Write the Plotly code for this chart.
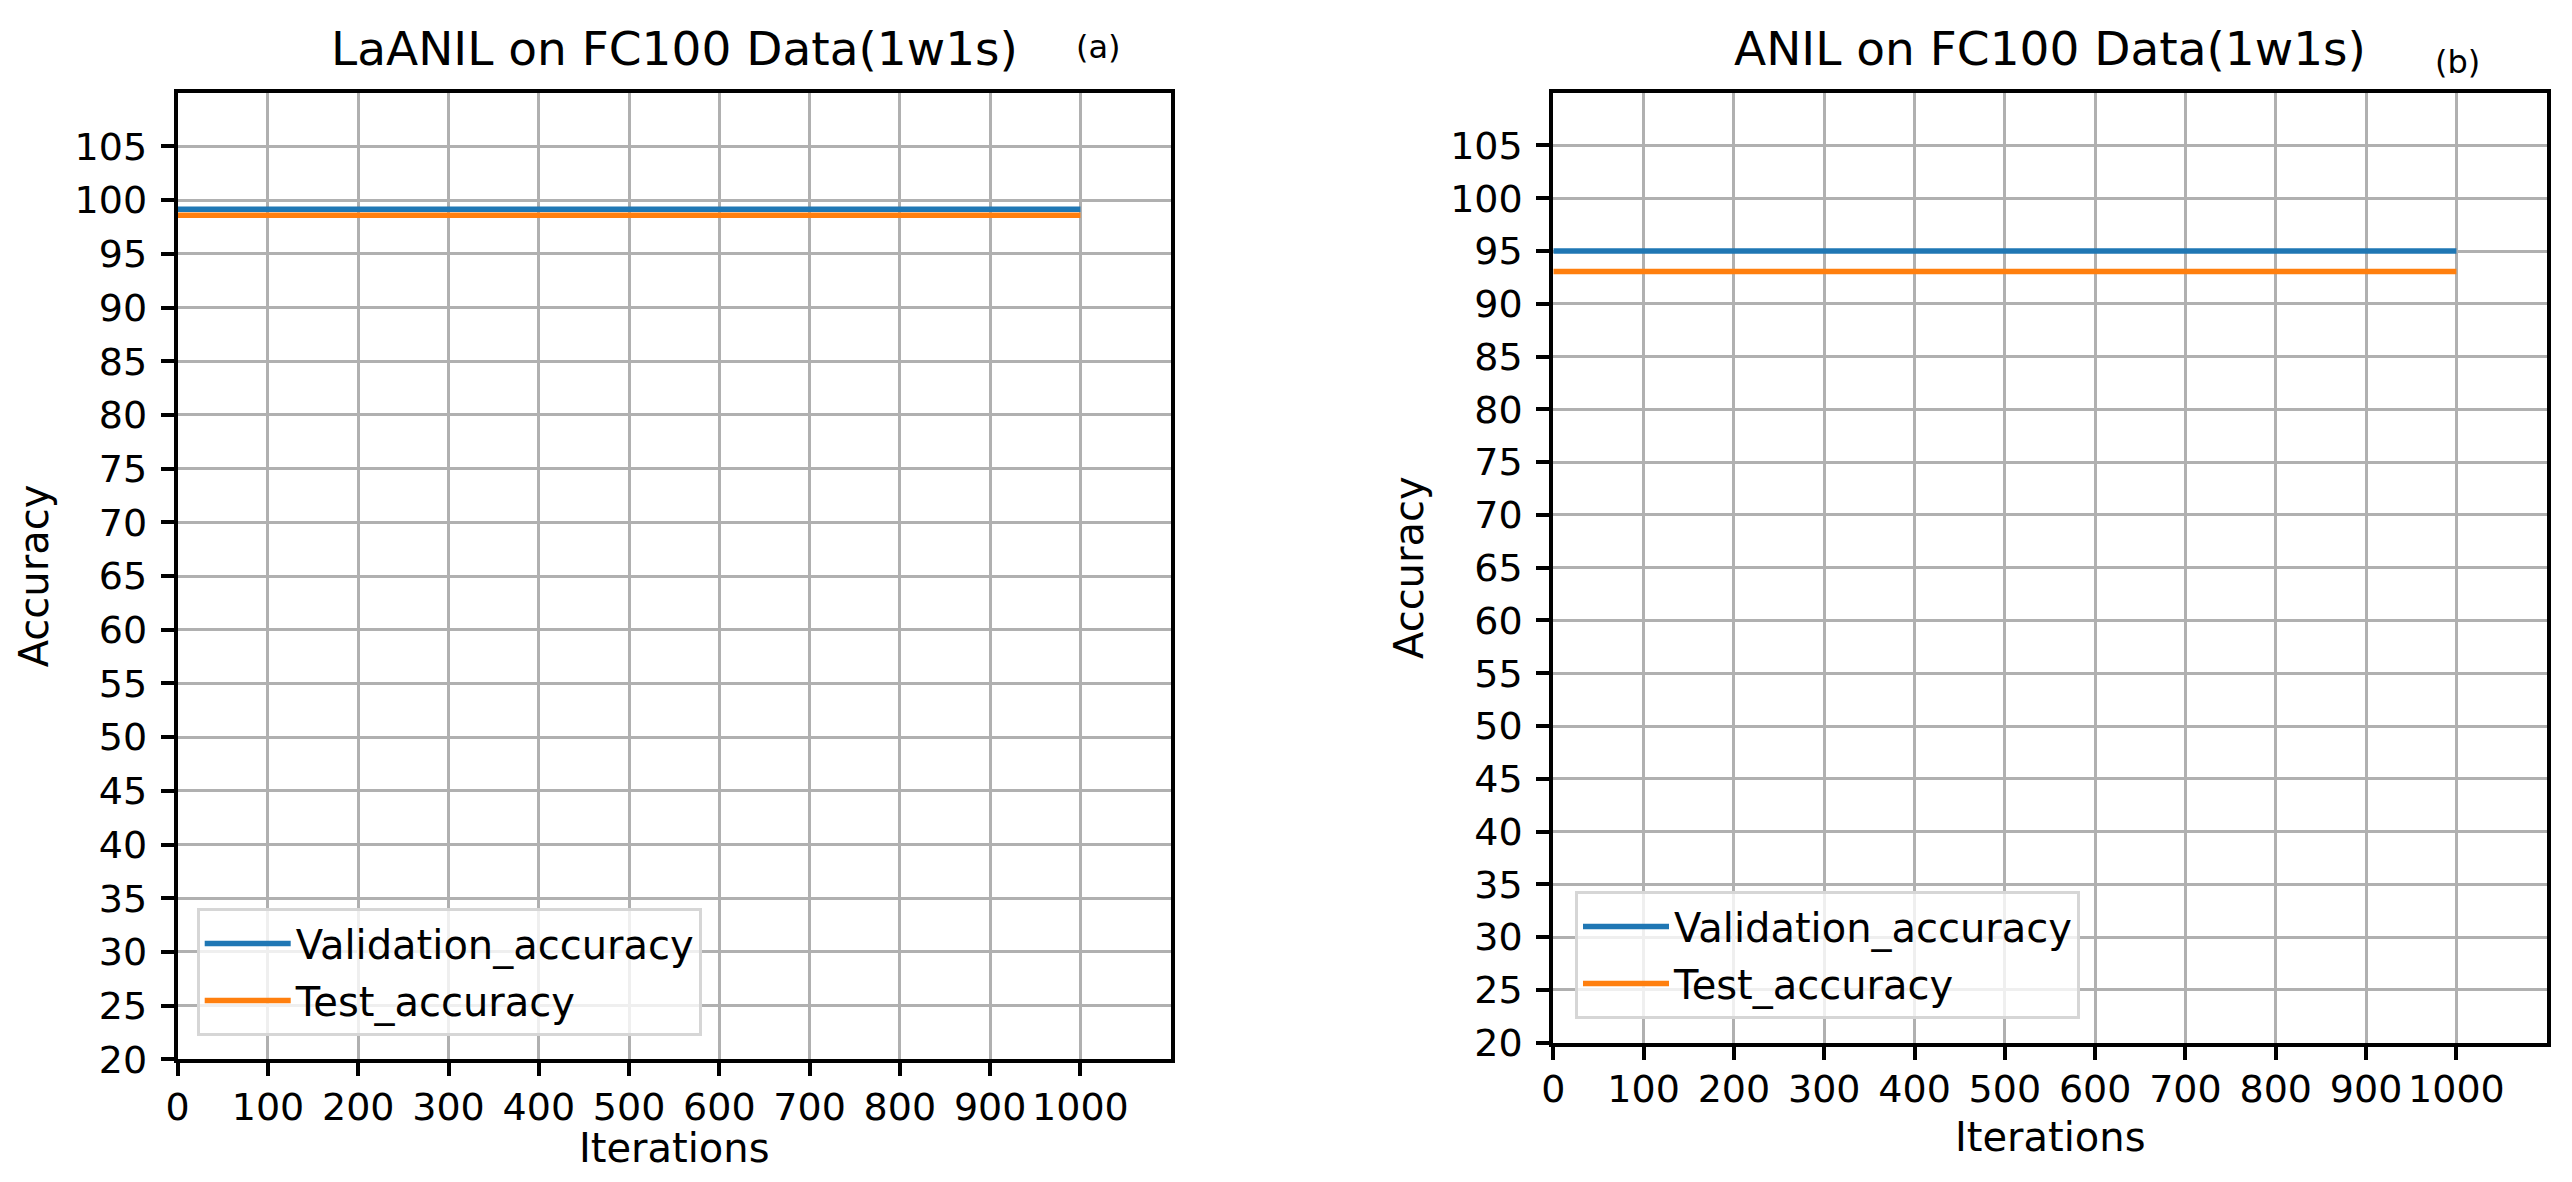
import plotly.graph_objects as go

# ---- data ----
iterations = [0, 1000]
laanil_validation = [99.15, 99.15]
laanil_test = [98.6, 98.6]
anil_validation = [95.0, 95.0]
anil_test = [93.05, 93.05]

y_ticks = list(range(20, 110, 5))
x_ticks = list(range(0, 1100, 100))

titles = ["LaANIL on FC100 Data(1w1s)", "ANIL on FC100 Data(1w1s)"]
panel_tags = ["(a)", "(b)"]
series_names = ["Validation_accuracy", "Test_accuracy"]
x_label = "Iterations"
y_label = "Accuracy"
colors = ["#1f77b4", "#ff7f0e"]

# page body has an 8px default margin: the figure is drawn inside it
OFF = 8
W, H = 2572 - 2 * OFF, 1182 - 2 * OFF
FONT = "DejaVu Sans"
FS_TICK = 38
FS_LAB = 40

def px(x):
    return (x - OFF) / W

def py(y):
    return 1 - (y - OFF) / H

fig = go.Figure()

panels = [
    ("x", "y", "legend", laanil_validation, laanil_test),
    ("x2", "y2", "legend2", anil_validation, anil_test),
]
for xa, ya, lg, val, tst in panels:
    for name, ys, col in zip(series_names, [val, tst], colors):
        fig.add_trace(go.Scatter(x=iterations, y=ys, mode="lines", name=name,
                                 line=dict(color=col, width=5.5), xaxis=xa, yaxis=ya,
                                 legend=lg, legendgroup=lg + name))

axis_common = dict(
    showline=True, mirror=True, linecolor="black", linewidth=4,
    showgrid=True, gridcolor="#b0b0b0", gridwidth=3.3,
    ticks="outside", ticklen=13, tickwidth=4, tickcolor="black",
    tickfont=dict(family=FONT, size=FS_TICK, color="black"),
    zeroline=False, automargin=False,
)

def xaxis_cfg(label_standoff):
    return dict(axis_common, range=[0, 1100], tickmode="array", tickvals=x_ticks,
                ticktext=[str(v) for v in x_ticks], tickangle=0, ticklabelstandoff=label_standoff)

yaxis_common = dict(axis_common, range=[20, 110], tickmode="array", tickvals=y_ticks,
                    ticktext=[str(v) for v in y_ticks], ticklabelstandoff=6,
                    title=dict(text=y_label, font=dict(family=FONT, size=FS_LAB, color="black")))

left_dom = [px(177.7), px(1170.7)]
right_dom = [px(1553.3), px(2546.7)]

legend_common = dict(
    bgcolor="rgba(255,255,255,0.8)", bordercolor="#d6d6d6", borderwidth=3,
    font=dict(family=FONT, size=FS_LAB, color="black"),
    xanchor="left", yanchor="top", itemwidth=86, tracegroupgap=2,
)

fig.update_layout(
    width=W, height=H,
    margin=dict(l=0, r=0, t=0, b=0),
    paper_bgcolor="white", plot_bgcolor="white",
    font=dict(family=FONT, color="black"),
    xaxis=dict(xaxis_cfg(-2), domain=left_dom, anchor="y"),
    yaxis=dict(yaxis_common, domain=[py(1059.3), py(92.7)], anchor="x"),
    xaxis2=dict(xaxis_cfg(-3), domain=right_dom, anchor="y2"),
    yaxis2=dict(yaxis_common, domain=[py(1042.7), py(92.7)], anchor="x2"),
    legend=dict(legend_common, x=px(196.7), y=py(908)),
    legend2=dict(legend_common, x=px(1575), y=py(891)),
    showlegend=True,
)

left_c = (177.7 + 1170.7) / 2
right_c = (1553.3 + 2546.7) / 2
annotations = [
    dict(text=titles[0], x=px(left_c), y=py(66.7), xref="paper", yref="paper",
         xanchor="center", yanchor="bottom", yshift=-11, showarrow=False,
         font=dict(family=FONT, size=47, color="black")),
    dict(text=titles[1], x=px(right_c), y=py(66.7), xref="paper", yref="paper",
         xanchor="center", yanchor="bottom", yshift=-11, showarrow=False,
         font=dict(family=FONT, size=47, color="black")),
    dict(text=panel_tags[0], x=px(1098), y=py(47), xref="paper", yref="paper",
         xanchor="center", yanchor="middle", showarrow=False, font=dict(family=FONT, size=32, color="black")),
    dict(text=panel_tags[1], x=px(2457), y=py(62), xref="paper", yref="paper",
         xanchor="center", yanchor="middle", showarrow=False, font=dict(family=FONT, size=32, color="black")),
    # x-axis titles
    dict(text=x_label, x=px(left_c), y=py(1148), xref="paper", yref="paper",
         xanchor="center", yanchor="middle", showarrow=False, font=dict(family=FONT, size=FS_LAB, color="black")),
    dict(text=x_label, x=px(right_c), y=py(1137), xref="paper", yref="paper",
         xanchor="center", yanchor="middle", showarrow=False, font=dict(family=FONT, size=FS_LAB, color="black")),
]
fig.update_layout(annotations=annotations)

fig.write_html("out.html")
